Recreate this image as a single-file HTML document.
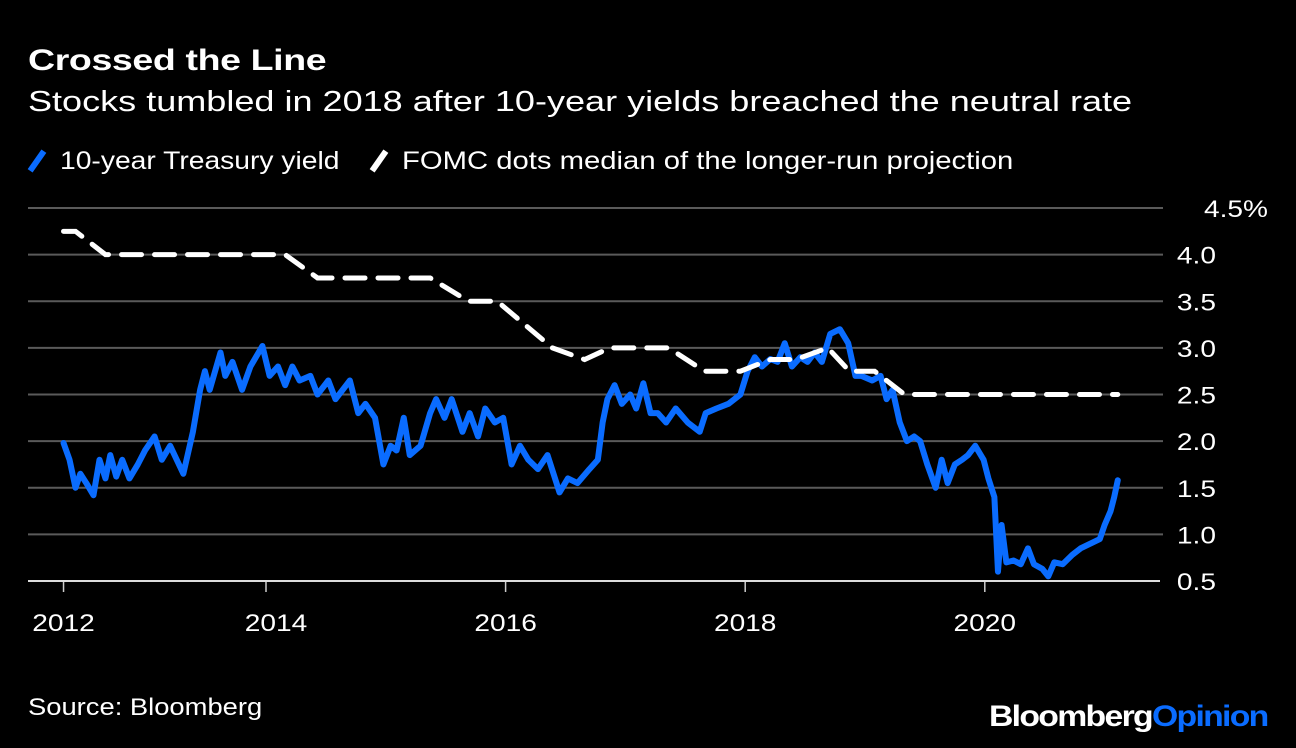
<!DOCTYPE html>
<html><head><meta charset="utf-8"><style>
body{margin:0;background:#000;width:1296px;height:748px;overflow:hidden;font-family:"Liberation Sans",Arial,sans-serif;color:#fff}
.t{position:absolute;white-space:nowrap;transform-origin:0 0}
</style></head><body>
<div class="t" style="left:28px;top:44px;font-size:30px;font-weight:bold;letter-spacing:-0.3px;transform:scaleX(1.25)">Crossed the Line</div>
<div class="t" style="left:28px;top:86px;font-size:29px;transform:scaleX(1.243)">Stocks tumbled in 2018 after 10-year yields breached the neutral rate</div>
<div class="t" style="left:28px;top:147px;font-size:25px"><span style="display:inline-block;width:6px;height:24px;background:#0a6cff;transform:rotate(35deg);vertical-align:-4px;margin:0 20px 0 6px"></span><span style="display:inline-block;transform:scaleX(1.13);transform-origin:0 0">10-year Treasury yield</span></div>
<div class="t" style="left:370px;top:147px;font-size:25px"><span style="display:inline-block;width:6px;height:24px;background:#fff;transform:rotate(35deg);vertical-align:-4px;margin:0 20px 0 6px"></span><span style="display:inline-block;transform:scaleX(1.17);transform-origin:0 0">FOMC dots median of the longer-run projection</span></div>
<svg id="chart" width="1296" height="748" style="position:absolute;left:0;top:0"></svg>
<div class="t" style="left:28px;top:694px;font-size:24px;transform:scaleX(1.14)">Source: Bloomberg</div>
<div class="t" style="left:989px;top:700px;font-size:30px;font-weight:bold;letter-spacing:-1.5px;transform:scaleX(1.125)">Bloomberg<span style="color:#0a6cff">Opinion</span></div>
<script>
const yieldDates=[2012.31,2012.36,2012.41,2012.45,2012.50,2012.56,2012.61,2012.66,2012.70,2012.75,2012.80,2012.86,2012.93,2012.99,2013.07,2013.13,2013.20,2013.31,2013.39,2013.45,2013.49,2013.53,2013.62,2013.66,2013.72,2013.80,2013.87,2013.97,2014.03,2014.10,2014.16,2014.22,2014.28,2014.37,2014.43,2014.52,2014.58,2014.70,2014.77,2014.83,2014.91,2014.98,2015.04,2015.09,2015.15,2015.20,2015.29,2015.37,2015.42,2015.49,2015.55,2015.64,2015.70,2015.77,2015.83,2015.91,2015.98,2016.05,2016.12,2016.19,2016.27,2016.35,2016.45,2016.52,2016.60,2016.70,2016.77,2016.81,2016.85,2016.91,2016.97,2017.04,2017.09,2017.15,2017.21,2017.27,2017.34,2017.42,2017.52,2017.62,2017.67,2017.76,2017.86,2017.96,2018.02,2018.08,2018.14,2018.21,2018.27,2018.33,2018.39,2018.46,2018.52,2018.58,2018.64,2018.71,2018.79,2018.86,2018.92,2018.97,2019.06,2019.13,2019.18,2019.23,2019.29,2019.35,2019.41,2019.46,2019.52,2019.59,2019.64,2019.69,2019.75,2019.81,2019.86,2019.92,2019.99,2020.03,2020.08,2020.11,2020.14,2020.18,2020.24,2020.30,2020.36,2020.41,2020.48,2020.53,2020.58,2020.65,2020.73,2020.80,2020.88,2020.96,2021.00,2021.05,2021.08,2021.11];
const yieldValues=[1.98,1.8,1.5,1.65,1.55,1.42,1.8,1.6,1.85,1.62,1.8,1.6,1.75,1.9,2.05,1.8,1.95,1.65,2.1,2.55,2.75,2.55,2.95,2.7,2.85,2.55,2.8,3.02,2.7,2.8,2.6,2.8,2.65,2.7,2.5,2.65,2.45,2.65,2.3,2.4,2.25,1.75,1.95,1.9,2.25,1.85,1.95,2.3,2.45,2.25,2.45,2.1,2.3,2.05,2.35,2.2,2.25,1.75,1.95,1.8,1.7,1.85,1.45,1.6,1.55,1.7,1.8,2.2,2.45,2.6,2.4,2.5,2.35,2.62,2.3,2.3,2.2,2.35,2.2,2.1,2.3,2.35,2.4,2.5,2.75,2.9,2.8,2.88,2.85,3.05,2.8,2.9,2.85,2.95,2.85,3.15,3.2,3.05,2.7,2.7,2.65,2.7,2.45,2.55,2.2,2.0,2.05,2.0,1.75,1.5,1.8,1.55,1.75,1.8,1.85,1.95,1.8,1.6,1.4,0.6,1.1,0.7,0.72,0.68,0.85,0.68,0.63,0.55,0.7,0.68,0.78,0.85,0.9,0.95,1.1,1.25,1.4,1.58];
const fomcDates=[2012.31,2012.41,2012.66,2014.16,2014.43,2015.37,2015.69,2015.93,2016.39,2016.66,2016.87,2017.36,2017.66,2017.96,2018.21,2018.42,2018.69,2018.87,2019.08,2019.33,2021.11];
const fomcValues=[4.25,4.25,4.0,4.0,3.75,3.75,3.5,3.5,3.0,2.875,3.0,3.0,2.75,2.75,2.875,2.875,3.0,2.75,2.75,2.5,2.5];
const yTicks=[0.5,1.0,1.5,2.0,2.5,3.0,3.5,4.0,4.5];
const yTickLabels=["0.5","1.0","1.5","2.0","2.5","3.0","3.5","4.0","4.5%"];
const xTicks=[2012.31,2014,2016,2018,2020];
const xTickLabels=["2012","2014","2016","2018","2020"];

const NS="http://www.w3.org/2000/svg";
const svg=document.getElementById('chart');
const X=t=>266+(t-2014)*119.8;
const Y=v=>581-(v-0.5)*93.25;
function mk(tag,a){const e=document.createElementNS(NS,tag);for(const k in a)e.setAttribute(k,a[k]);svg.appendChild(e);return e;}
function stretch(t,f){const w=t.getComputedTextLength();t.setAttribute('textLength',w*f);t.setAttribute('lengthAdjust','spacingAndGlyphs');}
yTicks.forEach((v,i)=>{
  if(i>0){const g=mk('line',{x1:28,x2:1163,y1:Y(v),y2:Y(v),stroke:'#5a5a5a','stroke-width':2});
  
  }
  const t=mk('text',{x:i==yTicks.length-1?1268:1216,y:Y(v)+9,'text-anchor':'end',fill:'#fff','font-size':24,'font-family':'Liberation Sans, Arial, sans-serif'});
  t.textContent=yTickLabels[i];
  
  
  stretch(t,1.17);
});
const ax=mk('line',{x1:28,x2:1160,y1:581,y2:581,stroke:'#ddd','stroke-width':2});


xTicks.forEach((t,i)=>{
  const tk=mk('line',{x1:X(t),x2:X(t),y1:582,y2:592,stroke:'#ccc','stroke-width':1.5});
  
  
  const l=mk('text',{x:X(t)+(i==1?10:0),y:631,'text-anchor':'middle',fill:'#fff','font-size':24,'font-family':'Liberation Sans, Arial, sans-serif'});
  l.textContent=xTickLabels[i];
  
  
  stretch(l,1.17);
});
const yp=mk('polyline',{points:yieldDates.map((d,i)=>X(d)+','+Y(yieldValues[i])).join(' '),fill:'none',stroke:'#0a6cff','stroke-width':6,'stroke-linejoin':'round','stroke-linecap':'round'});


const fp=mk('polyline',{points:fomcDates.map((d,i)=>X(d)+','+Y(fomcValues[i])).join(' '),fill:'none',stroke:'#fff','stroke-width':5,'stroke-dasharray':'20 13','stroke-linecap':'round'});


</script>
</body></html>
